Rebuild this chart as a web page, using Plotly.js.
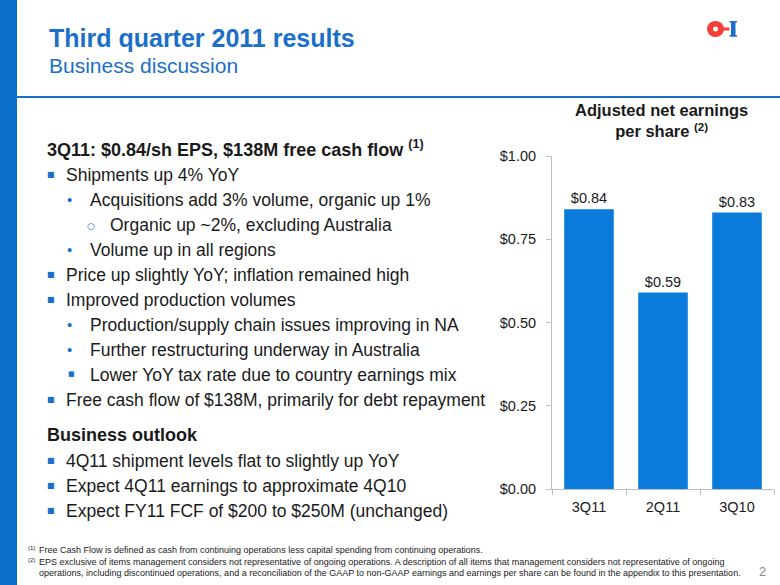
<!DOCTYPE html>
<html>
<head>
<meta charset="utf-8">
<script src="https://cdn.plot.ly/plotly-3.0.1.min.js"></script>
<style>
  html, body { margin: 0; padding: 0; background: #fff; }
  #chart { width: 780px; height: 585px; }
</style>
</head>
<body>
<div id="chart"></div>
<script>
// ---- data ----
const categories = ['3Q11', '2Q11', '3Q10'];
const epsValues = [0.84, 0.59, 0.83];
const yTickVals = [0, 0.25, 0.5, 0.75, 1.0];
const yTickText = ['$0.00', '$0.25', '$0.50', '$0.75', '$1.00'];

const slideTitle = 'Third quarter 2011 results';
const slideSubtitle = 'Business discussion';
const chartTitle = 'Adjusted net earnings<br>per share <sup>(2)</sup>';

// bullet lines: [level, text]  level 0 = bold heading
const bulletLines = [
  [0, '3Q11: $0.84/sh EPS, $138M free cash flow <sup>(1)</sup>'],
  [1, 'Shipments up 4% YoY'],
  [2, 'Acquisitions add 3% volume, organic up 1%'],
  [3, 'Organic up ~2%, excluding Australia'],
  [2, 'Volume up in all regions'],
  [1, 'Price up slightly YoY; inflation remained high'],
  [1, 'Improved production volumes'],
  [2, 'Production/supply chain issues improving in NA'],
  [2, 'Further restructuring underway in Australia'],
  [4, 'Lower YoY tax rate due to country earnings mix'],
  [1, 'Free cash flow of $138M, primarily for debt repayment'],
  [0, 'Business outlook'],
  [1, '4Q11 shipment levels flat to slightly up YoY'],
  [1, 'Expect 4Q11 earnings to approximate 4Q10'],
  [1, 'Expect FY11 FCF of $200 to $250M (unchanged)']
];
const lineY = [148, 175, 200, 225, 250, 275, 300, 325, 350, 375, 400, 435, 461, 486, 511];

const footnotes = [
  ['(1)', 'Free Cash Flow is defined as cash from continuing operations less capital spending from continuing operations.'],
  ['(2)', 'EPS exclusive of items management considers not representative of ongoing operations. A description of all items that management considers not representative of ongoing'],
  ['', 'operations, including discontinued operations, and a reconciliation of the GAAP to non-GAAP earnings and earnings per share can be found in the appendix to this presentation.']
];
const footY = [550, 562, 573];
const pageNumber = '2';

// ---- helpers ----
const W = 780, H = 585;
const px = x => x / W;
const py = y => 1 - y / H;
const FONT = 'Liberation Sans, Arial, sans-serif';
const BLUE = '#1A6FC9';
const BAR = '#0A7BDB';
const TXT = '#1a1a1a';

const annotations = [];
function addText(x, y, text, opts) {
  annotations.push(Object.assign({
    xref: 'paper', yref: 'paper', x: px(x), y: py(y),
    xanchor: 'left', yanchor: 'middle', showarrow: false, text: text,
    font: { family: FONT, size: 17.5, color: TXT }
  }, opts || {}));
}

// titles
addText(47, 38, '<b>' + slideTitle + '</b>', { font: { family: FONT, size: 25, color: BLUE } });
addText(47, 65, slideSubtitle, { font: { family: FONT, size: 21, color: BLUE } });
addText(661, 121, '<b>' + chartTitle + '</b>', { xanchor: 'center', font: { family: FONT, size: 16.5, color: TXT } });

// bullets
bulletLines.forEach((ln, i) => {
  const lvl = ln[0], t = ln[1], y = lineY[i];
  if (lvl === 0) {
    addText(45, y, '<b>' + t + '</b>', { font: { family: FONT, size: 18, color: TXT } });
  } else if (lvl === 1) {
    addText(45, y - 1, '■', { font: { family: 'DejaVu Sans, sans-serif', size: 8, color: BLUE } });
    addText(64, y, t);
  } else if (lvl === 2) {
    addText(65, y - 1, '•', { font: { family: FONT, size: 15, color: BLUE } });
    addText(88, y, t);
  } else if (lvl === 3) {
    addText(85, y + 1, '○', { font: { family: 'DejaVu Sans, sans-serif', size: 9, color: BLUE } });
    addText(108, y, t);
  } else if (lvl === 4) {
    addText(66, y - 1, '■', { font: { family: 'DejaVu Sans, sans-serif', size: 7, color: BLUE } });
    addText(88, y, t);
  }
});

// footnotes
const FN_FONT = 'Liberation Sans Narrow, Arial Narrow, Liberation Sans, sans-serif';
footnotes.forEach((f, i) => {
  if (f[0]) addText(26, footY[i] - 2, f[0], { font: { family: FN_FONT, size: 6, color: TXT } });
  addText(37, footY[i], f[1], { font: { family: FN_FONT, size: 9, color: TXT } });
});
addText(762, 571, pageNumber, { xanchor: 'center', font: { family: FONT, size: 13, color: '#8c8c8c' } });

// decorative shapes
const RED = '#F23F3A';
const shapes = [
  { type: 'rect', xref: 'paper', yref: 'paper', x0: 0, x1: px(17), y0: 0, y1: 1, fillcolor: '#0A6FC8', line: { width: 0 } },
  { type: 'line', xref: 'paper', yref: 'paper', x0: px(17), x1: 1, y0: py(97), y1: py(97), line: { color: '#1A6FC9', width: 2 } },
  // logo O-I
  { type: 'circle', xref: 'paper', yref: 'paper', x0: px(707), x1: px(724), y0: py(37), y1: py(21), fillcolor: RED, line: { width: 0 } },
  { type: 'circle', xref: 'paper', yref: 'paper', x0: px(713), x1: px(718), y0: py(31.5), y1: py(26.5), fillcolor: '#ffffff', line: { width: 0 } },
  { type: 'rect', xref: 'paper', yref: 'paper', x0: px(722), x1: px(729.5), y0: py(30.5), y1: py(27.5), fillcolor: RED, line: { width: 0 } },
  { type: 'rect', xref: 'paper', yref: 'paper', x0: px(731), x1: px(735.5), y0: py(36.5), y1: py(21), fillcolor: '#1A6FC9', line: { width: 0 } },
  { type: 'rect', xref: 'paper', yref: 'paper', x0: px(729.5), x1: px(737), y0: py(22.5), y1: py(21), fillcolor: '#1A6FC9', line: { width: 0 } },
  { type: 'rect', xref: 'paper', yref: 'paper', x0: px(729.5), x1: px(737), y0: py(36.5), y1: py(35), fillcolor: '#1A6FC9', line: { width: 0 } }
];

const trace = {
  type: 'bar',
  x: categories,
  y: epsValues,
  marker: { color: BAR },
  text: epsValues.map(v => '$' + v.toFixed(2)),
  textposition: 'outside',
  textfont: { family: FONT, size: 14.5, color: TXT },
  cliponaxis: false,
  hoverinfo: 'skip'
};

const layout = {
  width: W, height: H,
  margin: { l: 0, r: 0, t: 0, b: 0 },
  paper_bgcolor: '#ffffff', plot_bgcolor: '#ffffff',
  showlegend: false,
  bargap: 0.33,
  font: { family: FONT, size: 14.5, color: TXT },
  xaxis: {
    domain: [px(552), px(774)],
    type: 'category',
    showline: true, linecolor: '#BFBFBF', linewidth: 1,
    ticks: 'outside', ticklen: 5, tickcolor: '#BFBFBF', tickson: 'boundaries',
    ticklabelstandoff: 5,
    tickfont: { family: FONT, size: 14.5, color: TXT },
    showgrid: false, zeroline: false, fixedrange: true
  },
  yaxis: {
    domain: [py(489), py(156)],
    range: [0, 1],
    tickvals: yTickVals, ticktext: yTickText,
    showline: true, linecolor: '#BFBFBF', linewidth: 1,
    ticks: 'outside', ticklen: 5, tickcolor: '#BFBFBF',
    ticklabelstandoff: 7,
    tickfont: { family: FONT, size: 14.5, color: TXT },
    showgrid: false, zeroline: false, fixedrange: true
  },
  annotations: annotations,
  shapes: shapes
};

Plotly.newPlot('chart', [trace], layout, { displayModeBar: false, staticPlot: true });
</script>
</body>
</html>
